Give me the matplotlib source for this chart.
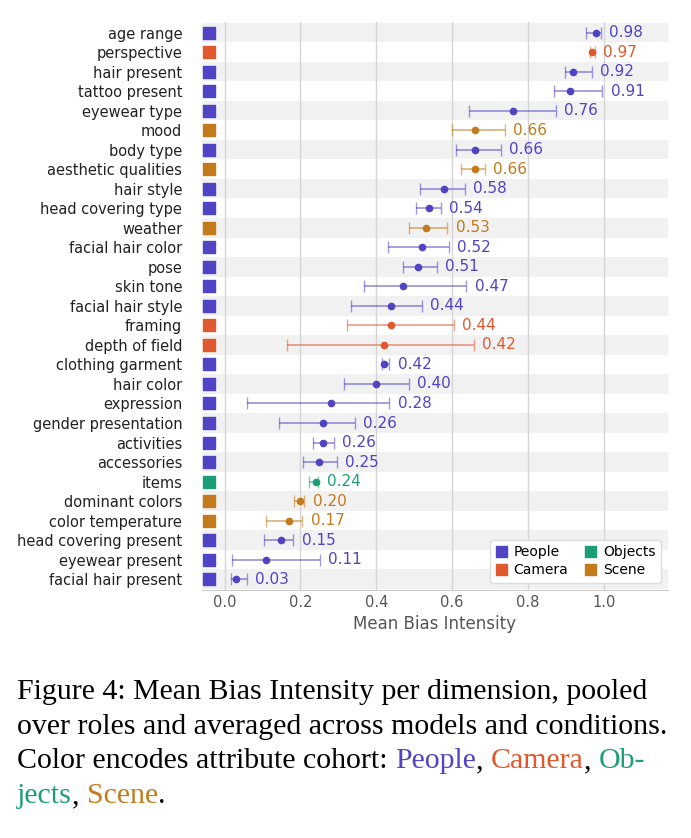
import matplotlib
matplotlib.use("Agg")
import matplotlib.pyplot as plt

dims = ["age range","perspective","hair present","tattoo present","eyewear type","mood","body type",
        "aesthetic qualities","hair style","head covering type","weather","facial hair color","pose",
        "skin tone","facial hair style","framing","depth of field","clothing garment","hair color",
        "expression","gender presentation","activities","accessories","items","dominant colors",
        "color temperature","head covering present","eyewear present","facial hair present"]
cohort = ["People","Camera","People","People","People","Scene","People","Scene","People","People",
          "Scene","People","People","People","People","Camera","Camera","People","People","People",
          "People","People","People","Objects","Scene","Scene","People","People","People"]
means = [0.98,0.97,0.92,0.91,0.76,0.66,0.66,0.66,0.58,0.54,0.53,0.52,0.51,0.47,0.44,0.44,0.42,0.42,
         0.40,0.28,0.26,0.26,0.25,0.24,0.20,0.17,0.15,0.11,0.03]
lo = [0.954,0.963,0.897,0.868,0.645,0.600,0.611,0.623,0.516,0.506,0.487,0.430,0.470,0.368,0.333,
      0.324,0.165,0.414,0.314,0.058,0.143,0.232,0.206,0.224,0.183,0.109,0.104,0.021,0.016]
hi = [0.992,0.977,0.969,0.996,0.873,0.739,0.729,0.687,0.634,0.570,0.588,0.592,0.560,0.638,0.520,
      0.604,0.658,0.435,0.486,0.435,0.344,0.289,0.297,0.247,0.210,0.205,0.181,0.252,0.059]
colors = {"People":"#5044c4","Camera":"#e0592e","Objects":"#1b9e77","Scene":"#c27a1a"}

fig = plt.figure(figsize=(6.91,8.38), dpi=100)
ax = fig.add_axes([0.292,0.296,0.675,0.678])
n = len(dims)
for i in range(n):
    y = n-1-i
    if i % 2 == 0:
        ax.axhspan(y-0.5, y+0.5, color="#f1f1f1", zorder=0, lw=0)
    c = colors[cohort[i]]
    m = means[i]
    ax.errorbar([m],[y],xerr=[[m-lo[i]],[hi[i]-m]],fmt='none',ecolor=c,alpha=0.55,capsize=4,lw=1.3,zorder=3)
    ax.plot([m],[y],'o',color=c,ms=4.5,zorder=4)
    ax.text(hi[i]+0.022,y,f"{m:.2f}",color=c,va='center',ha='left',fontsize=11,zorder=5)
    ax.scatter([-0.04],[y],marker='s',s=75,color=c,zorder=5,clip_on=False)
ax.set_yticks(range(n))
ax.set_yticklabels(dims[::-1], fontsize=10.5, color="#222222")
ax.tick_params(axis='y', length=0, pad=14)
ax.tick_params(axis='x', length=0, labelsize=10.5, labelcolor="#555555")
ax.set_xlim(-0.06,1.17)
ax.set_ylim(-0.55,n-0.45)
ax.set_xticks([0,0.2,0.4,0.6,0.8,1.0])
ax.grid(axis='x', color="#d5d5d5", lw=1, zorder=1)
ax.set_axisbelow(True)
for s in ["top","right","left"]:
    ax.spines[s].set_visible(False)
ax.spines["bottom"].set_color("#cccccc")
ax.set_xlabel("Mean Bias Intensity", fontsize=12, color="#555555")
from matplotlib.patches import Patch
handles = [Patch(color=colors[k]) for k in ["People","Camera","Objects","Scene"]]
ax.legend(handles, ["People","Camera","Objects","Scene"], ncol=2, loc='lower right',
          fontsize=10, handlelength=0.8, handleheight=0.8, columnspacing=1.2,
          borderpad=0.4, labelspacing=0.3, handletextpad=0.5, framealpha=1, edgecolor="#dddddd")

cap = dict(fontsize=21.5, family="Liberation Serif", va='top', ha='left')
y0 = 0.19
dy = 0.0415
fig.text(0.025, y0, "Figure 4: Mean Bias Intensity per dimension, pooled", **cap)
fig.text(0.025, y0-dy, "over roles and averaged across models and conditions.", **cap)
t = fig.text(0.025, y0-2*dy, "Color encodes attribute cohort: ", **cap)
fig.canvas.draw()
r = fig.canvas.get_renderer()
def after(prev, s, color):
    bb = prev.get_window_extent(r)
    x = bb.x1/fig.bbox.width
    tt = fig.text(x, prev.get_position()[1], s, color=color, **cap)
    return tt
t = after(t, "People", colors["People"])
t = after(t, ", ", "black")
t = after(t, "Camera", colors["Camera"])
t = after(t, ", ", "black")
t = after(t, "Ob-", colors["Objects"])
t2 = fig.text(0.025, y0-3*dy, "jects", color=colors["Objects"], **cap)
t2 = after(t2, ", ", "black")
t2 = after(t2, "Scene", colors["Scene"])
t2 = after(t2, ".", "black")
fig.savefig("out.png", dpi=100)
